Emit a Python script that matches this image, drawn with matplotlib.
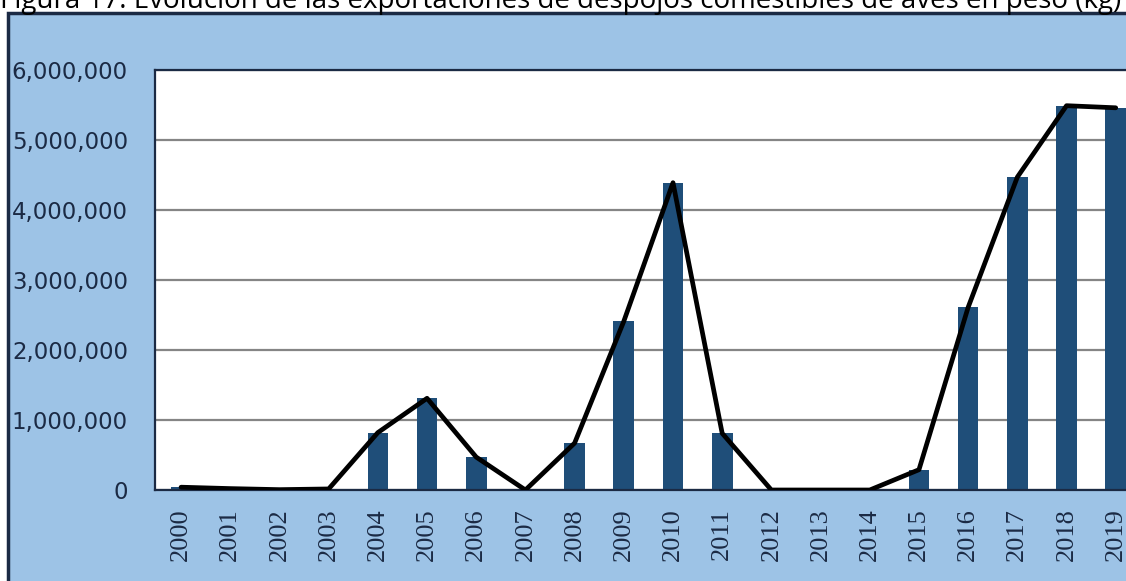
import matplotlib.pyplot as plt
from matplotlib.patches import Rectangle
from matplotlib.ticker import FuncFormatter

years = [str(y) for y in range(2000, 2020)]
kg = [40000, 20000, 5000, 15000, 820000, 1310000, 470000, 0, 670000,
      2410000, 4390000, 810000, 0, 0, 0, 290000, 2610000, 4470000,
      5490000, 5460000]

title = ("Figura 17: Evolución de las exportaciones de despojos "
         "comestibles de aves en peso (kg)")

fig = plt.figure(figsize=(11.26, 5.81), dpi=100)
fig.patch.set_facecolor('white')

# light blue chart frame (cropped on the right and bottom)
fig.patches.append(Rectangle((8 / 1126, -0.05), 1.2, 1.05 - 13 / 581,
                             transform=fig.transFigure, facecolor='#9dc3e6',
                             edgecolor='#1b2a44', linewidth=2.5, zorder=-5))

fig.text(0.0, 1 - 8 / 581, title, ha='left', va='baseline', fontsize=20,
         family='Open Sans', color='black')

ax = fig.add_axes([155 / 1126, 91 / 581, 1005 / 1126, 420 / 581])
ax.set_zorder(2)
ax.set_facecolor('white')
x = range(len(years))
ax.bar(x, kg, width=0.42, color='#1f4e79', zorder=2)
ax.plot(x, kg, color='black', linewidth=3.4, solid_joinstyle='round',
        solid_capstyle='round', zorder=3)

ax.set_xlim(-0.53, 19.9)
ax.set_ylim(0, 6000000)
ax.set_yticks(range(0, 6000001, 1000000))
ax.yaxis.set_major_formatter(FuncFormatter(lambda v, p: f'{int(v):,}'))
ax.grid(axis='y', color='#858585', linewidth=1.6, zorder=1)
ax.set_axisbelow(True)
ax.set_xticks(list(x))
ax.set_xticklabels(years, rotation=90, family='Liberation Serif',
                   fontsize=19, color='#1b2a44')
ax.tick_params(axis='y', length=0, pad=19.5, labelsize=16.5,
               labelcolor='#1b2a44')
ax.tick_params(axis='x', length=0, pad=13)
for s in ['top', 'left', 'bottom']:
    ax.spines[s].set_color('#1b2a44')
    ax.spines[s].set_linewidth(1.6)
ax.spines['right'].set_visible(False)

fig.savefig('out.png', dpi=100)
